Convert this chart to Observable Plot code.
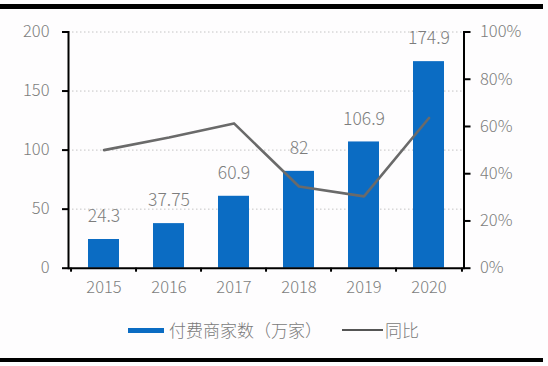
<!DOCTYPE html>
<html>
<head>
<meta charset="utf-8">
<script src="https://cdn.jsdelivr.net/npm/d3@7"></script>
<script src="https://cdn.jsdelivr.net/npm/@observablehq/plot@0.6"></script>
<style>
  html, body { margin: 0; padding: 0; background: #fefdfe; }
  body { width: 548px; height: 366px; position: relative; overflow: hidden; font-family: "Noto Sans CJK SC", "Noto Sans", sans-serif; }
  #chart { position: absolute; left: 0; top: 0; }
  #chart text { font-weight: 300; }
  .rule { position: absolute; left: 0; width: 543px; background: #000; }
  #legend { position: absolute; left: 0; top: 318px; width: 548px; height: 24px; font-size: 17px; font-weight: 300; color: #7a7a7a; }
  #legend .item { position: absolute; top: 0; height: 24px; line-height: 24px; white-space: nowrap; }
  #legend .sw { position: absolute; }
</style>
</head>
<body>
<div class="rule" style="top:4px;height:4.5px"></div>
<div id="chart"></div>
<div id="legend"></div>
<div class="rule" style="top:358px;height:3.5px"></div>
<script>
const years = ["2015", "2016", "2017", "2018", "2019", "2020"];
const merchants = [24.3, 37.75, 60.9, 82, 106.9, 174.9];
const merchantLabels = ["24.3", "37.75", "60.9", "82", "106.9", "174.9"];
const growthPct = [50, 55.3, 61.3, 34.6, 30.4, 63.6];
const leftTicks = [0, 50, 100, 150, 200];
const rightTicks = [0, 20, 40, 60, 80, 100];
const rightTickLabels = ["0%", "20%", "40%", "60%", "80%", "100%"];
const seriesNames = ["付费商家数（万家）", "同比"];

const barColor = "#0b6cc3";
const lineColor = "#6a6a6a";
const textColor = "#7d7d7d";

const data = years.map((y, i) => ({year: y, value: merchants[i], label: merchantLabels[i], growth: growthPct[i]}));

const W = 548, H = 300, mL = 68, mR = 84.5, mT = 31.5, mB = 32.3;
const bw = (W - mL - mR) / years.length;
const pctToLeft = 2; // 100% on the right axis equals 200 on the left axis

const chart = Plot.plot({
  width: W, height: H,
  marginLeft: mL, marginRight: mR, marginTop: mT, marginBottom: mB,
  style: {background: "transparent", fontFamily: "'Noto Sans CJK SC', 'Noto Sans', sans-serif", overflow: "visible"},
  x: {type: "band", domain: years, padding: 0, axis: null, label: null},
  y: {domain: [0, 200], axis: null, label: null},
  marks: [
    Plot.gridY(leftTicks.filter(d => d > 0), {stroke: "#c4c4c4", strokeOpacity: 1, strokeDasharray: "1.5,2.5"}),
    Plot.barY(data, {x: "year", y: "value", fill: barColor, insetLeft: 17, insetRight: 17}),
    Plot.line(data, {x: "year", y: d => d.growth * pctToLeft, stroke: lineColor, strokeWidth: 2.6}),
    Plot.text(data, {x: "year", y: "value", text: "label", dy: -23, fill: textColor, fontSize: 17.5}),
    Plot.ruleY([0], {stroke: "#000", strokeWidth: 2}),
    Plot.frame({anchor: "left", stroke: "#000", strokeWidth: 2}),
    Plot.frame({anchor: "right", stroke: "#000", strokeWidth: 2}),
    Plot.axisX({tickSize: 4, tickFormat: () => "", label: null, dx: -bw / 2, stroke: "#000", strokeWidth: 2}),
    Plot.axisX({ticks: [years[years.length - 1]], tickSize: 4, tickFormat: () => "", label: null, dx: bw / 2, stroke: "#000", strokeWidth: 2}),
    Plot.axisX({tickSize: 0, tickPadding: 13, label: null, fill: textColor, fontSize: 16.5}),
    Plot.axisY({anchor: "left", ticks: leftTicks, label: null, tickSize: 6, tickPadding: 13, stroke: "#000", strokeWidth: 2, fill: textColor, fontSize: 16.5}),
    Plot.axisY({anchor: "right", ticks: rightTicks.map(d => d * pctToLeft), label: null, tickSize: 6, tickPadding: 10, stroke: "#000", strokeWidth: 2, fill: textColor, fontSize: 16.5,
      tickFormat: d => rightTickLabels[rightTicks.indexOf(d / pctToLeft)]})
  ]
});
document.getElementById("chart").appendChild(chart);

const legend = document.getElementById("legend");
legend.innerHTML = `
  <div class="sw" style="left:128px;top:9.5px;width:36px;height:5.5px;background:${barColor}"></div>
  <div class="item" style="left:169px">${seriesNames[0]}</div>
  <div class="sw" style="left:342px;top:11px;width:41px;height:2px;background:#555"></div>
  <div class="item" style="left:385px">${seriesNames[1]}</div>`;
</script>
</body>
</html>
